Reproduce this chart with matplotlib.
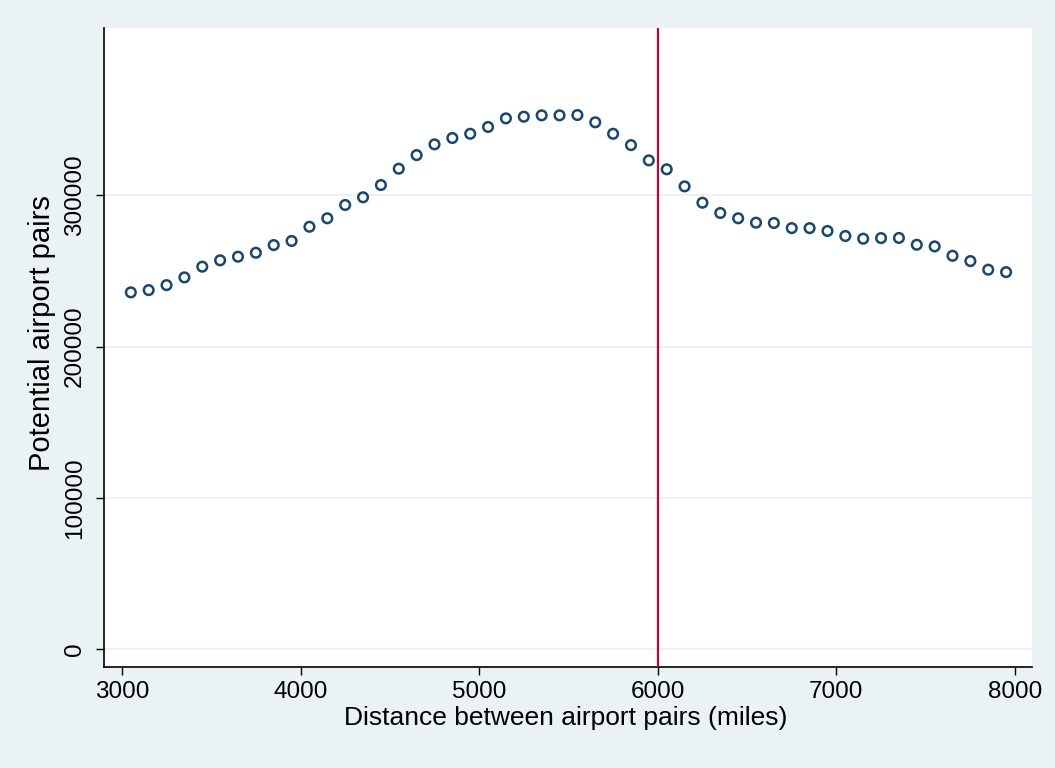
import numpy as np
import matplotlib
matplotlib.use('Agg')
import matplotlib.pyplot as plt

plt.rcParams['font.family'] = ['Liberation Sans', 'DejaVu Sans']

# distance bins (miles) and number of potential airport pairs
distance = np.arange(3050, 8000, 100)
pairs = [235900, 237400, 240700, 245800, 252900, 257100, 259500, 262100, 267200, 269900,
         279300, 284900, 293700, 298800, 306900, 317700, 326700, 333800, 338000, 340800,
         345300, 351000, 352100, 353000, 353000, 353200, 348400, 340800, 333300, 323200,
         317300, 306000, 295200, 288400, 284900, 282000, 281800, 278400, 278400, 276500,
         273200, 271400, 271800, 271900, 267400, 266300, 260100, 256600, 250900, 249300]
cutoff = 6000

xticks = [3000, 4000, 5000, 6000, 7000, 8000]
yticks = [0, 100000, 200000, 300000]

bg = '#eaf2f3'
navy = '#1a476f'

fig = plt.figure(figsize=(10.55, 7.68), dpi=100, facecolor=bg)
ax = fig.add_axes([0.0986, 0.1315, 0.8796, 0.8325])
ax.set_facecolor('white')

ax.scatter(distance, pairs, s=48, facecolors='none', edgecolors=navy, linewidths=1.8, zorder=3)
ax.axvline(cutoff, color='#c10534', linewidth=1.6, zorder=4)

ax.set_xlim(2900, 8095)
ax.set_ylim(-11900, 411000)
ax.set_xticks(xticks)
ax.set_xticklabels([str(t) for t in xticks])
ax.set_yticks(yticks)
ax.set_yticklabels([str(t) for t in yticks], rotation=90, va='center')

ax.yaxis.grid(True, color=bg, linewidth=1.5)
ax.set_axisbelow(True)

for s in ['top', 'right']:
    ax.spines[s].set_visible(False)
for s in ['left', 'bottom']:
    ax.spines[s].set_linewidth(1.2)
    ax.spines[s].set_color('black')

ax.tick_params(axis='both', direction='out', length=6, width=1, labelsize=17.5)
ax.tick_params(axis='x', pad=4)
ax.tick_params(axis='y', pad=7)

ax.set_xlabel('Distance between airport pairs (miles)', fontsize=19)
ax.set_ylabel('Potential airport pairs', fontsize=21)
ax.xaxis.set_label_coords(0.497, -0.08)
ax.yaxis.set_label_coords(-0.067, 0.523)
ax.xaxis.label.set_va('center')
ax.yaxis.label.set_va('center')

fig.savefig('out.png', dpi=100, facecolor=bg)
